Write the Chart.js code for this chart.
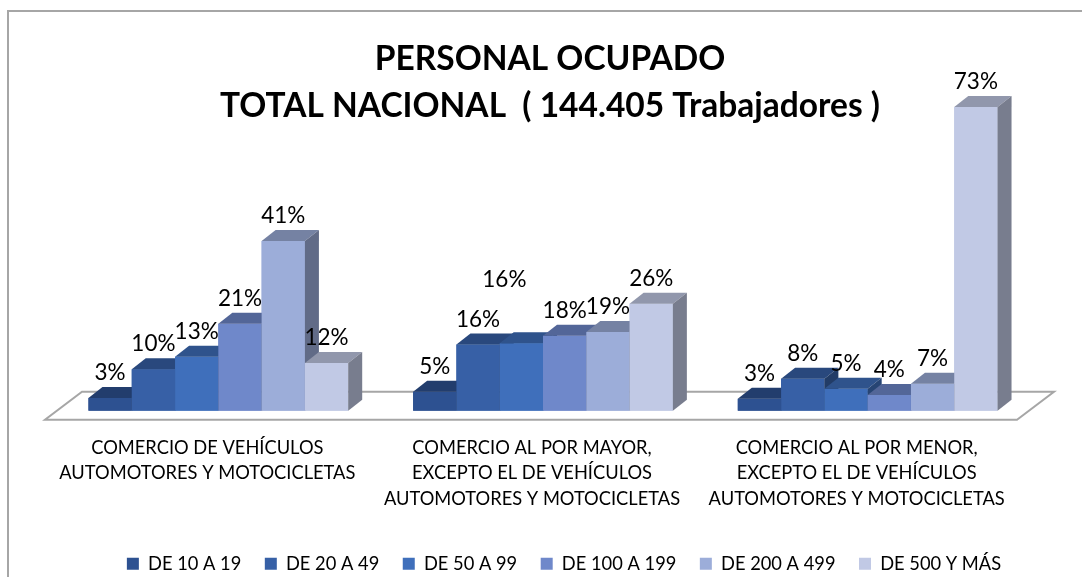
<!DOCTYPE html>
<html><head><meta charset="utf-8">
<style>html,body{margin:0;padding:0;background:#fff}#w{position:relative;width:1082px;height:577px;overflow:hidden}</style>
<script src="https://cdn.jsdelivr.net/npm/chart.js@4"></script></head>
<body><div id="w"><canvas id="c" width="1082" height="577"></canvas></div>
<script>
const categories = [
  ["COMERCIO DE VEHÍCULOS","AUTOMOTORES Y MOTOCICLETAS"],
  ["COMERCIO AL POR MAYOR,","EXCEPTO EL DE VEHÍCULOS","AUTOMOTORES Y MOTOCICLETAS"],
  ["COMERCIO AL POR MENOR,","EXCEPTO EL DE VEHÍCULOS","AUTOMOTORES Y MOTOCICLETAS"]
];
const seriesNames = ["DE 10 A 19","DE 20 A 49","DE 50 A 99","DE 100 A 199","DE 200 A 499","DE 500 Y MÁS"];
const de10a19 = [3.1,4.6,2.9];
const de20a49 = [10,15.9,7.7];
const de50a99 = [13,16.2,5.3];
const de100a199 = [20.9,18,3.8];
const de200a499 = [40.8,18.9,6.5];
const de500ymas = [11.5,25.7,73];
const seriesValues = [de10a19,de20a49,de50a99,de100a199,de200a499,de500ymas];
const seriesColors = ["#2d5191","#3760a6","#3f6fbb","#6f88ca","#9cadd9","#c1c9e5"];
const titleLines = ["PERSONAL OCUPADO","TOTAL NACIONAL  ( 144.405 Trabajadores )"];
const movedLabels = {"1:2":[-17,39]};

function shade(hex,f){const n=parseInt(hex.slice(1),16);
  return `rgb(${Math.round((n>>16&255)*f)},${Math.round((n>>8&255)*f)},${Math.round((n&255)*f)})`;}
const DX=14,DY=-11;
const bars3d={id:'bars3d',
  afterLayout(chart){
    chart.legend.left+=21;chart.legend.right+=21;
    chart.titleBlock.left+=7;chart.titleBlock.right+=7;
  },
  beforeDraw(chart){const c=chart.ctx;c.save();c.strokeStyle='#a6a6a6';c.lineWidth=2;
    c.beginPath();c.moveTo(8,577);c.lineTo(8,11);c.lineTo(1082,11);c.stroke();c.restore();},
  beforeDatasetsDraw(chart){
    const {ctx:c,chartArea:a,scales:{y}}=chart;const b=y.getPixelForValue(0);
    c.save();c.strokeStyle='#a6a6a6';c.lineWidth=2;c.fillStyle='#fff';c.beginPath();
    c.moveTo(a.left-11,b+9);c.lineTo(a.right-13,b+9);c.lineTo(a.right+24,b-19);c.lineTo(a.left+26,b-19);c.closePath();
    c.fill();c.stroke();c.restore();},
  afterDatasetsDraw(chart){
    const c=chart.ctx;const metas=chart.getSortedVisibleDatasetMetas().slice().sort((p,q)=>p.index-q.index);
    c.save();
    for(let j=0;j<categories.length;j++){
      metas.forEach(m=>{const r=m.data[j],col=seriesColors[m.index];
        r.draw(c);
        const {x,y,base,width}=r.getProps(['x','y','base','width'],true);
        const l=x-width/2,rr=x+width/2;
        c.fillStyle=shade(col,.75);c.beginPath();c.moveTo(l,y);c.lineTo(rr,y);c.lineTo(rr+DX,y+DY);c.lineTo(l+DX,y+DY);c.closePath();c.fill();
        c.fillStyle=shade(col,.62);c.beginPath();c.moveTo(rr,y);c.lineTo(rr+DX,y+DY);c.lineTo(rr+DX,base+DY);c.lineTo(rr,base);c.closePath();c.fill();
      });
    }
    c.fillStyle='#000';c.font='22.5px Lato';c.textAlign='center';c.textBaseline='middle';
    metas.forEach(m=>{m.data.forEach((r,j)=>{
      const mv=movedLabels[j+':'+m.index]||[0,0];
      c.fillText(Math.round(seriesValues[m.index][j])+'%',r.x+mv[0],r.y-25-mv[1]);});});
    c.restore();}
};
new Chart(document.getElementById('c'),{
  type:'bar',
  data:{labels:categories,datasets:seriesValues.map((d,i)=>({label:seriesNames[i],data:d,backgroundColor:seriesColors[i],
    categoryPercentage:.8,barPercentage:1,borderWidth:0}))},
  plugins:[bars3d],
  options:{responsive:false,animation:false,events:[],
    layout:{padding:{left:56,right:52,top:0,bottom:-6}},
    plugins:{
      title:{display:true,text:titleLines,color:'#000',font:{family:'Lato',size:33.5,weight:'bold',lineHeight:1.4},padding:{top:35.5,bottom:-51.5}},
      tooltip:{enabled:false},
      legend:{position:'bottom',labels:{font:{family:'Lato',size:18.3},color:'#000',boxWidth:12,boxHeight:12,padding:23.5,
        sort:(a,b)=>a.datasetIndex-b.datasetIndex}}
    },
    scales:{
      x:{grid:{display:false,drawTicks:false},border:{display:false},afterFit(s){s.height-=5;},
        ticks:{font:{family:'Lato',size:18.3,lineHeight:1.41},color:'#000',labelOffset:-11,maxRotation:0,autoSkip:false,padding:24}},
      y:{display:false,min:0,max:80}
    }}
});
</script></body></html>
